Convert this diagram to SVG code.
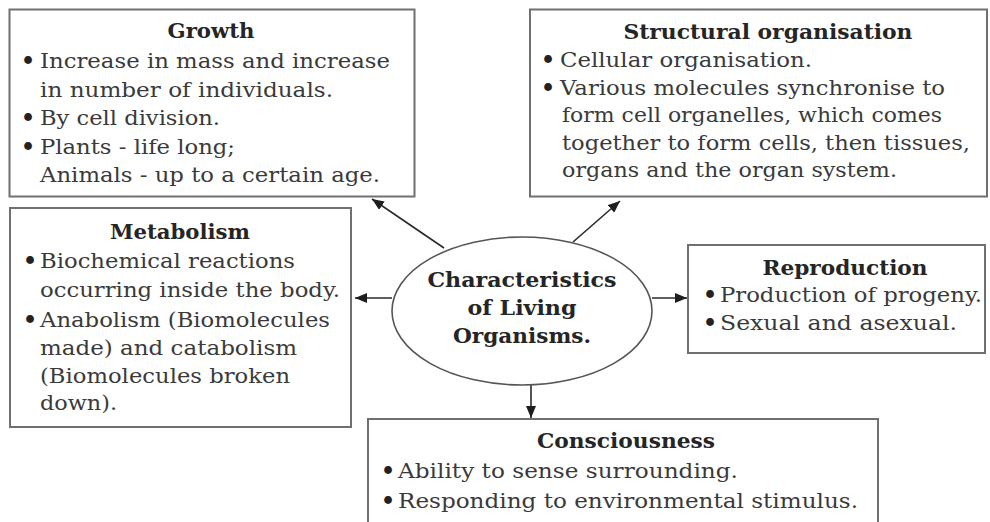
<svg xmlns="http://www.w3.org/2000/svg" width="990" height="522" viewBox="0 0 990 522">
  <style>
    .box { fill: #ffffff; stroke: #707070; stroke-width: 2; }
    .hub { fill: #ffffff; stroke: #555555; stroke-width: 1.6; }
    .title { font-family: "DejaVu Serif", "Liberation Serif", serif; font-size: 20.5px; font-weight: bold; fill: #252525; text-anchor: middle; }
    .item { font-family: "DejaVu Serif", "Liberation Serif", serif; font-size: 21px; fill: #3a3a3a; }
    .dot { font-family: "DejaVu Serif", "Liberation Serif", serif; font-size: 22px; font-weight: bold; fill: #222222; text-anchor: middle; }
    .link { stroke: #2a2a2a; stroke-width: 1.6; fill: none; marker-end: url(#head); }
  </style>
  <defs>
    <marker id="head" markerUnits="userSpaceOnUse" markerWidth="12" markerHeight="10" refX="12" refY="5" orient="auto">
      <path d="M0,0 L12,5 L0,10 z" fill="#1e1e1e"/>
    </marker>
  </defs>
  <rect width="990" height="522" fill="#ffffff"/>

  <!-- connectors from the central ellipse -->
  <g id="connectors">
    <line class="link" x1="444" y1="248" x2="372" y2="199"/>
    <line class="link" x1="573" y1="242" x2="620" y2="201"/>
    <line class="link" x1="392" y1="298" x2="355" y2="298"/>
    <line class="link" x1="652" y1="298" x2="687" y2="298"/>
    <line class="link" x1="531" y1="385" x2="531" y2="418"/>
  </g>

  <g id="growth">
    <rect class="box" x="9.5" y="9.5" width="405" height="187"/>
    <text class="title" x="211" y="38" textLength="87" lengthAdjust="spacingAndGlyphs">Growth</text>
    <text class="dot" x="28" y="68">•</text>
    <text class="item" x="40" y="68" textLength="350" lengthAdjust="spacingAndGlyphs">Increase in mass and increase</text>
    <text class="item" x="40" y="96.5" textLength="293" lengthAdjust="spacingAndGlyphs">in number of individuals.</text>
    <text class="dot" x="28" y="125">•</text>
    <text class="item" x="40" y="125" textLength="180" lengthAdjust="spacingAndGlyphs">By cell division.</text>
    <text class="dot" x="28" y="153.5">•</text>
    <text class="item" x="40" y="153.5" textLength="195" lengthAdjust="spacingAndGlyphs">Plants - life long;</text>
    <text class="item" x="40" y="182" textLength="340" lengthAdjust="spacingAndGlyphs">Animals - up to a certain age.</text>
  </g>

  <g id="structural-organisation">
    <rect class="box" x="530" y="9.5" width="457" height="187"/>
    <text class="title" x="768" y="39" textLength="289" lengthAdjust="spacingAndGlyphs">Structural organisation</text>
    <text class="dot" x="548" y="67">•</text>
    <text class="item" x="560" y="67" textLength="252" lengthAdjust="spacingAndGlyphs">Cellular organisation.</text>
    <text class="dot" x="548" y="94.5">•</text>
    <text class="item" x="560" y="94.5" textLength="385" lengthAdjust="spacingAndGlyphs">Various molecules synchronise to</text>
    <text class="item" x="562" y="122" textLength="380" lengthAdjust="spacingAndGlyphs">form cell organelles, which comes</text>
    <text class="item" x="562" y="149.5" textLength="408" lengthAdjust="spacingAndGlyphs">together to form cells, then tissues,</text>
    <text class="item" x="562" y="177" textLength="335" lengthAdjust="spacingAndGlyphs">organs and the organ system.</text>
  </g>

  <g id="metabolism">
    <rect class="box" x="10" y="208" width="341" height="219"/>
    <text class="title" x="180" y="239" textLength="140" lengthAdjust="spacingAndGlyphs">Metabolism</text>
    <text class="dot" x="30" y="268">•</text>
    <text class="item" x="40" y="268" textLength="255" lengthAdjust="spacingAndGlyphs">Biochemical reactions</text>
    <text class="item" x="40" y="297" textLength="300" lengthAdjust="spacingAndGlyphs">occurring inside the body.</text>
    <text class="dot" x="30" y="327">•</text>
    <text class="item" x="40" y="327" textLength="290" lengthAdjust="spacingAndGlyphs">Anabolism (Biomolecules</text>
    <text class="item" x="40" y="355" textLength="257" lengthAdjust="spacingAndGlyphs">made) and catabolism</text>
    <text class="item" x="40" y="383" textLength="250" lengthAdjust="spacingAndGlyphs">(Biomolecules broken</text>
    <text class="item" x="40" y="410" textLength="77" lengthAdjust="spacingAndGlyphs">down).</text>
  </g>

  <g id="characteristics">
    <ellipse class="hub" cx="522" cy="311" rx="130" ry="74"/>
    <text class="title" x="522" y="287" textLength="189" lengthAdjust="spacingAndGlyphs">Characteristics</text>
    <text class="title" x="522" y="315" textLength="109" lengthAdjust="spacingAndGlyphs">of Living</text>
    <text class="title" x="522" y="343" textLength="138" lengthAdjust="spacingAndGlyphs">Organisms.</text>
  </g>

  <g id="reproduction">
    <rect class="box" x="688" y="245" width="297" height="108"/>
    <text class="title" x="845" y="275" textLength="165" lengthAdjust="spacingAndGlyphs">Reproduction</text>
    <text class="dot" x="710" y="302">•</text>
    <text class="item" x="720" y="302" textLength="262" lengthAdjust="spacingAndGlyphs">Production of progeny.</text>
    <text class="dot" x="710" y="330">•</text>
    <text class="item" x="720" y="330" textLength="237" lengthAdjust="spacingAndGlyphs">Sexual and asexual.</text>
  </g>

  <g id="consciousness">
    <rect class="box" x="368" y="419" width="510" height="120"/>
    <text class="title" x="626" y="448" textLength="178" lengthAdjust="spacingAndGlyphs">Consciousness</text>
    <text class="dot" x="388" y="478">•</text>
    <text class="item" x="398" y="478" textLength="340" lengthAdjust="spacingAndGlyphs">Ability to sense surrounding.</text>
    <text class="dot" x="388" y="508">•</text>
    <text class="item" x="398" y="508" textLength="460" lengthAdjust="spacingAndGlyphs">Responding to environmental stimulus.</text>
  </g>
</svg>
